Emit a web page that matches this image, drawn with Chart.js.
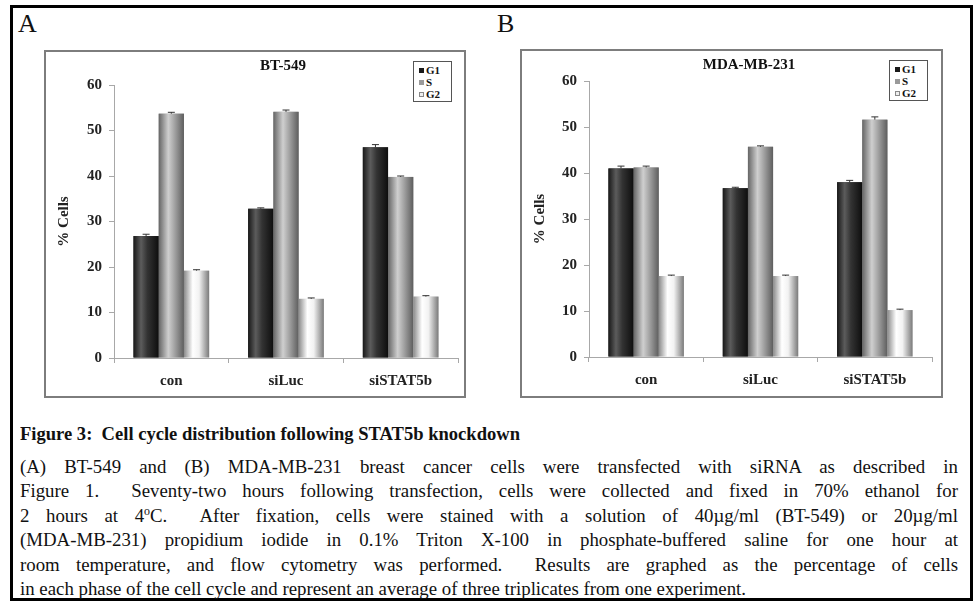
<!DOCTYPE html>
<html>
<head>
<meta charset="utf-8">
<script src="https://cdn.jsdelivr.net/npm/chart.js@4.4.1/dist/chart.umd.min.js"></script>
<style>
  html, body { margin: 0; padding: 0; background: #fff; }
  body { width: 977px; height: 603px; position: relative; overflow: hidden; font-family: "Liberation Serif", "Times New Roman", serif; color: #111; }
  #frame { position: absolute; left: 10px; top: 5px; width: 957px; height: 590px; border: 3px solid #000; }
  .panel-letter { position: absolute; font-size: 26px; line-height: 26px; }
  .box { position: absolute; border: 2px solid #7d7d7d; background: #fff; }
  .box canvas { position: absolute; left: 0; top: 0; }
  .ctitle { position: absolute; font-weight: bold; font-size: 15px; line-height: 16px; white-space: nowrap; transform: translateX(-50%); }
  .legend { position: absolute; box-sizing: border-box; width: 39px; height: 41px; border: 1.5px solid #555; background: #fff; padding: 2px 0 0 5px; font-weight: bold; font-size: 11px; line-height: 12px; }
  .legend div { white-space: nowrap; }
  .sw { display: inline-block; box-sizing: border-box; width: 5px; height: 5px; margin-right: 2px; vertical-align: 1px; }
  #captionTitle { position: absolute; left: 20px; top: 424px; font-weight: bold; font-size: 18.5px; line-height: 20px; white-space: nowrap; transform-origin: left top; }
  #captionBody { position: absolute; left: 20px; top: 455px; width: 938px; font-size: 19px; line-height: 24.4px; transform-origin: left top; }
  #captionBody .ln { text-align: justify; text-align-last: justify; white-space: nowrap; }
  #captionBody .ln.last { text-align-last: left; }
  #measure { position: absolute; left: 0; top: 0; visibility: hidden; white-space: nowrap; font-size: 19px; }
</style>
</head>
<body>
<div id="frame"></div>
<div class="panel-letter" style="left:18px; top:11px;">A</div>
<div class="panel-letter" style="left:497px; top:11px;">B</div>

<div class="box" style="left:44px; top:50px; width:418px; height:344px;">
  <canvas id="chartA" width="418" height="344"></canvas>
</div>
<div class="ctitle" style="left:283px; top:57px;">BT-549</div>
<div class="legend" style="left:413px; top:61px;">
  <div><span class="sw" style="background:#1a1a1a"></span>G1</div>
  <div><span class="sw" style="background:#9a9a9a"></span>S</div>
  <div><span class="sw" style="background:#eee; border:1px solid #888;"></span>G2</div>
</div>

<div class="box" style="left:520px; top:49px; width:419px; height:345px;">
  <canvas id="chartB" width="419" height="345"></canvas>
</div>
<div class="ctitle" style="left:749px; top:56px;">MDA-MB-231</div>
<div class="legend" style="left:889px; top:60px;">
  <div><span class="sw" style="background:#1a1a1a"></span>G1</div>
  <div><span class="sw" style="background:#9a9a9a"></span>S</div>
  <div><span class="sw" style="background:#eee; border:1px solid #888;"></span>G2</div>
</div>

<div id="captionTitle">Figure 3:&nbsp; Cell cycle distribution following STAT5b knockdown</div>
<div id="captionBody">
  <div class="ln">(A) BT-549 and (B) MDA-MB-231 breast cancer cells were transfected with siRNA as described in</div>
  <div class="ln">Figure 1.&nbsp; Seventy-two hours following transfection, cells were collected and fixed in 70% ethanol for</div>
  <div class="ln">2 hours at 4<sup style="font-size:12px; line-height:0;">o</sup>C.&nbsp; After fixation, cells were stained with a solution of 40µg/ml (BT-549) or 20µg/ml</div>
  <div class="ln">(MDA-MB-231) propidium iodide in 0.1% Triton X-100 in phosphate-buffered saline for one hour at</div>
  <div class="ln">room temperature, and flow cytometry was performed.&nbsp; Results are graphed as the percentage of cells</div>
  <div class="ln last">in each phase of the cell cycle and represent an average of three triplicates from one experiment.</div>
</div>
<span id="measure"></span>

<script>
const categories = ['con', 'siLuc', 'siSTAT5b'];
const phases = ['G1', 'S', 'G2'];
const yTicks = [0, 10, 20, 30, 40, 50, 60];

// panel A: BT-549
const btG1 = [26.8, 32.8, 46.3];
const btS = [53.7, 54.1, 39.8];
const btG2 = [19.2, 13.0, 13.5];
const btG1Err = [0.4, 0.2, 0.6];
const btSErr = [0.3, 0.4, 0.2];
const btG2Err = [0.2, 0.2, 0.2];

// panel B: MDA-MB-231
const mdaG1 = [41.0, 36.7, 38.0];
const mdaS = [41.2, 45.7, 51.6];
const mdaG2 = [17.6, 17.6, 10.2];
const mdaG1Err = [0.5, 0.2, 0.4];
const mdaSErr = [0.3, 0.2, 0.6];
const mdaG2Err = [0.2, 0.2, 0.2];

// caption: the scan is a bit wider than the font, stretch to the same line ends
(function fitCaption() {
  const m = document.getElementById('measure');
  const body = document.getElementById('captionBody');
  const lines = body.querySelectorAll('.ln');
  m.textContent = lines[lines.length - 1].textContent;
  const sx = 726 / m.getBoundingClientRect().width;
  body.style.width = (938 / sx) + 'px';
  body.style.transform = 'scaleX(' + sx + ')';

  const t = document.getElementById('captionTitle');
  const tx = 500 / t.getBoundingClientRect().width;
  t.style.transform = 'scaleX(' + tx + ')';
})();

// horizontal shading of each bar, like the old Excel cylinder look
const shades = [
  [[0, '#181818'], [0.3, '#5c5c5c'], [0.55, '#333'], [1, '#0e0e0e']],
  [[0, '#656565'], [0.38, '#cfcfcf'], [0.6, '#a8a8a8'], [1, '#5e5e5e']],
  [[0, '#8a8a8a'], [0.35, '#ffffff'], [0.6, '#f2f2f2'], [1, '#7a7a7a']]
];

const barLook = {
  id: 'barLook',
  afterDatasetsDraw(chart) {
    const ctx = chart.ctx;
    const y = chart.scales.y;
    chart.data.datasets.forEach((ds, i) => {
      const meta = chart.getDatasetMeta(i);
      meta.data.forEach((bar, j) => {
        const p = bar.getProps(['x', 'y', 'base', 'width'], true);
        const left = p.x - p.width / 2;
        const g = ctx.createLinearGradient(left, 0, left + p.width, 0);
        shades[i].forEach(s => g.addColorStop(s[0], s[1]));
        ctx.save();
        ctx.fillStyle = g;
        ctx.fillRect(left, p.y, p.width, p.base - p.y);
        // error bar
        const top = y.getPixelForValue(ds.data[j] + ds.err[j]);
        ctx.strokeStyle = '#333';
        ctx.lineWidth = 1;
        ctx.beginPath();
        ctx.moveTo(p.x, p.y);
        ctx.lineTo(p.x, top);
        ctx.moveTo(p.x - 3.5, top);
        ctx.lineTo(p.x + 3.5, top);
        ctx.stroke();
        ctx.restore();
      });
    });
  }
};

function makeChart(id, g1, s, g2, errs, pad) {
  const tickFont = { family: '"Liberation Serif", serif', size: 15, weight: 'bold' };
  return new Chart(document.getElementById(id), {
    type: 'bar',
    data: {
      labels: categories,
      datasets: [
        { label: phases[0], data: g1, err: errs[0], backgroundColor: '#333' },
        { label: phases[1], data: s, err: errs[1], backgroundColor: '#999' },
        { label: phases[2], data: g2, err: errs[2], backgroundColor: '#ddd' }
      ]
    },
    options: {
      responsive: false,
      animation: false,
      layout: { padding: { top: pad.top, right: pad.right, left: 0, bottom: 0 } },
      datasets: { bar: { categoryPercentage: 0.66, barPercentage: 1.0 } },
      plugins: { legend: { display: false }, tooltip: { enabled: false } },
      scales: {
        x: {
          grid: { offset: true, drawOnChartArea: false, tickLength: 5, color: '#a8a8a8' },
          border: { color: '#a8a8a8' },
          ticks: { font: tickFont, color: '#222', padding: 9 },
          afterFit: sc => { sc.height = pad.bottom; }
        },
        y: {
          min: 0,
          max: 60,
          afterBuildTicks: sc => { sc.ticks = yTicks.map(v => ({ value: v })); },
          grid: { drawOnChartArea: false, tickLength: 5, color: '#a8a8a8' },
          border: { color: '#a8a8a8' },
          ticks: { font: tickFont, color: '#222', padding: 7 },
          title: {
            display: true,
            text: '% Cells',
            font: tickFont,
            color: '#222',
            padding: { top: 9, bottom: 0 }
          },
          afterFit: sc => { sc.width = pad.left; }
        }
      }
    },
    plugins: [barLook]
  });
}

makeChart('chartA', btG1, btS, btG2, [btG1Err, btSErr, btG2Err],
  { top: 33, right: 6, bottom: 38, left: 68 });
makeChart('chartB', mdaG1, mdaS, mdaG2, [mdaG1Err, mdaSErr, mdaG2Err],
  { top: 30, right: 9, bottom: 39, left: 67 });
</script>
</body>
</html>
